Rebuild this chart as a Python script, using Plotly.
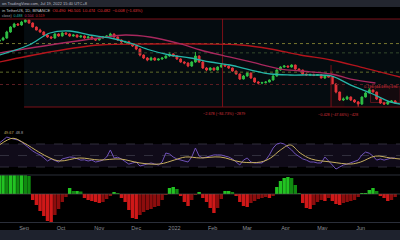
import plotly.graph_objects as go
import pandas as pd

# ---------------- data ----------------
dates = pd.date_range("2021-08-12", periods=108, freq="3D")

open_ = [1.85,1.901,1.992,2.291,2.573,2.759,2.696,2.891,3.029,2.824,
         2.573,2.400,2.291,2.136,2.039,1.992,2.186,2.087,2.238,2.186,
         2.087,2.136,2.039,2.087,1.992,2.039,1.946,1.901,1.992,2.039,
         2.087,2.186,2.039,1.901,1.815,1.830,1.733,1.654,1.542,1.341,
         1.251,1.194,1.251,1.194,1.222,1.251,1.310,1.373,1.310,1.222,
         1.140,1.113,1.038,1.140,1.310,1.140,0.991,0.946,0.991,0.946,
         1.014,1.063,1.038,0.991,0.924,0.862,0.767,0.823,0.882,0.785,
         0.716,0.699,0.705,0.716,0.750,0.823,0.946,1.014,1.038,1.014,
         1.063,0.968,0.946,0.862,0.842,0.850,0.835,0.848,0.785,0.823,
         0.804,0.683,0.567,0.471,0.482,0.505,0.471,0.450,0.429,0.505,
         0.554,0.594,0.567,0.482,0.439,0.429,0.450,0.460]
high = [1.96,2.05,2.36,2.62,2.84,2.82,2.97,3.10,3.05,2.86,
        2.60,2.47,2.33,2.18,2.08,2.23,2.22,2.29,2.28,2.22,
        2.18,2.16,2.12,2.11,2.08,2.07,1.98,2.03,2.09,2.12,
        2.25,2.21,2.07,1.93,1.87,1.87,1.76,1.68,1.57,1.36,
        1.28,1.29,1.27,1.24,1.27,1.33,1.44,1.39,1.33,1.24,
        1.16,1.13,1.16,1.44,1.33,1.16,1.01,1.01,1.00,1.03,
        1.08,1.09,1.05,1.00,0.93,0.87,0.84,0.90,0.89,0.79,
        0.73,0.72,0.73,0.76,0.84,0.96,1.03,1.06,1.05,1.08,
        1.07,0.98,0.95,0.87,0.87,0.87,0.86,0.85,0.83,0.84,
        0.81,0.69,0.57,0.50,0.52,0.51,0.48,0.46,0.51,0.57,
        0.62,0.60,0.57,0.49,0.45,0.46,0.47,0.47]
low = [1.80,1.88,1.96,2.25,2.54,2.64,2.65,2.86,2.78,2.55,
       2.38,2.26,2.10,2.00,1.94,1.96,2.05,2.06,2.15,2.05,
       2.06,2.01,2.01,1.96,1.97,1.92,1.86,1.88,1.97,2.01,
       2.06,2.01,1.87,1.78,1.78,1.70,1.62,1.50,1.30,1.22,
       1.16,1.18,1.17,1.18,1.20,1.23,1.29,1.29,1.20,1.12,
       1.08,1.01,1.02,1.12,1.12,0.97,0.92,0.93,0.93,0.94,
       1.00,1.02,0.97,0.91,0.85,0.75,0.76,0.81,0.77,0.70,
       0.68,0.68,0.69,0.71,0.74,0.81,0.93,1.00,1.00,1.00,
       0.95,0.93,0.85,0.83,0.83,0.82,0.83,0.78,0.77,0.80,
       0.67,0.55,0.46,0.46,0.47,0.46,0.44,0.40,0.42,0.50,
       0.55,0.56,0.47,0.43,0.42,0.42,0.44,0.43]
close = [1.901,1.992,2.291,2.573,2.759,2.696,2.891,3.029,2.824,2.573,
         2.400,2.291,2.136,2.039,1.992,2.186,2.087,2.238,2.186,2.087,
         2.136,2.039,2.087,1.992,2.039,1.946,1.901,1.992,2.039,2.087,
         2.186,2.039,1.901,1.815,1.830,1.733,1.654,1.542,1.341,1.251,
         1.194,1.251,1.194,1.222,1.251,1.310,1.373,1.310,1.222,1.140,
         1.113,1.038,1.140,1.310,1.140,0.991,0.946,0.991,0.946,1.014,
         1.063,1.038,0.991,0.924,0.862,0.767,0.823,0.882,0.785,0.716,
         0.699,0.705,0.716,0.750,0.823,0.946,1.014,1.038,1.014,1.063,
         0.968,0.946,0.862,0.842,0.850,0.835,0.848,0.785,0.823,0.804,
         0.683,0.567,0.471,0.482,0.505,0.471,0.450,0.429,0.505,0.554,
         0.594,0.567,0.482,0.439,0.429,0.450,0.460,0.439]

ma_fast_dates = ["2021-08-12","2021-09-05","2021-09-22","2021-10-08","2021-10-24","2021-11-10",
                 "2021-11-26","2021-12-12","2021-12-28","2022-01-14","2022-01-30","2022-02-15",
                 "2022-03-04","2022-03-20","2022-04-05","2022-04-22","2022-05-08","2022-05-24",
                 "2022-06-09","2022-06-25","2022-07-03"]
ma_fast = [1.341,1.693,2.238,2.345,2.136,1.992,1.773,1.507,1.341,1.251,1.140,1.063,
           0.946,0.862,0.842,0.842,0.823,0.667,0.554,0.450,0.429]

ma_mid_dates = ["2021-08-12","2021-09-22","2021-11-01","2021-11-22","2021-12-12","2022-01-06",
                "2022-01-22","2022-02-11","2022-03-04","2022-03-28","2022-04-13","2022-05-08",
                "2022-05-24","2022-06-13"]
ma_mid = [1.405,1.693,1.992,2.136,2.039,1.733,1.507,1.310,1.140,0.968,0.924,0.862,0.767,0.699]

ma_slow_dates = ["2021-08-12","2021-09-22","2021-11-01","2021-12-12","2022-01-22","2022-02-24",
                 "2022-03-20","2022-04-13","2022-05-08","2022-06-01","2022-07-03"]
ma_slow = [1.140,1.438,1.693,1.733,1.733,1.693,1.542,1.341,1.194,1.014,0.804]

rsi = [71.7,77,82,80,78.7,77,73.5,68,63,58,
       54,51,46,40.5,44,42,38.7,44,45.7,47.4,
       47,44,42,42.5,40.5,42,38.7,40,42,47.4,
       59.6,45.7,47,44,38.7,35,37,38.7,31.7,33.5,
       35,37,35.2,33.5,38.7,54.3,52.6,47.4,43.9,42.2,
       40.5,38.7,47.4,63,49,45.7,47.4,49,51,51,
       50.9,49,47.4,44,38.7,33.5,42,45.7,38.7,37,
       37,37,42,51,63,70,71.7,70,64.8,59.6,
       52.6,49,44,42,38.7,38.7,37,37,47.4,40.5,
       33.5,26.5,30,33.5,35,37,38.7,42,51,56,
       54,49,42,44,42,44,45.7,45.7]

rsi_ma_dates = ["2021-08-12","2021-08-23","2021-09-01","2021-09-13","2021-09-22","2021-09-30",
                "2021-10-16","2021-11-01","2021-11-18","2021-12-04","2021-12-20","2022-01-01",
                "2022-01-10","2022-01-22","2022-02-07","2022-02-24","2022-03-12","2022-03-20",
                "2022-03-28","2022-04-05","2022-04-13","2022-04-22","2022-05-08","2022-05-24",
                "2022-06-01","2022-06-13","2022-06-25","2022-07-03"]
rsi_ma = [68.3,80,71.7,56,45.7,40.5,45.7,42.2,43.9,37,35.2,42.2,47.4,45.7,47.4,38.7,
          38.7,45.7,59.6,68.3,54.3,43.9,38.7,35.2,38.7,49,45.7,43.9]

mom = [0.19,0.20,0.19,0.20,0.20,0.19,0.20,0.19,0.18,
       -0.06,-0.11,-0.17,-0.22,-0.27,-0.28,-0.21,-0.15,-0.08,-0.03,
       0.06,0.03,0.03,0.025,
       -0.04,-0.06,-0.07,-0.08,-0.09,-0.08,-0.05,-0.02,
       0.02,0.01,
       -0.04,-0.08,-0.16,-0.24,-0.25,-0.21,-0.18,-0.16,-0.15,-0.13,-0.12,-0.06,-0.01,
       0.06,0.07,0.05,
       -0.02,-0.08,-0.12,-0.06,-0.01,
       0.02,
       -0.04,-0.08,-0.14,-0.19,-0.14,-0.05,
       0.03,0.03,0.02,
       -0.02,-0.08,-0.12,-0.13,-0.09,-0.07,-0.05,-0.04,-0.03,-0.04,-0.02,
       0.07,0.13,0.16,0.17,0.16,0.09,0.01,
       -0.09,-0.14,-0.15,-0.11,-0.08,-0.06,-0.07,-0.04,-0.07,-0.10,-0.11,-0.09,-0.08,-0.07,-0.06,-0.03,
       0.01,0.01,0.04,0.06,0.03,
       -0.02,-0.04,-0.07,-0.06,-0.03]

tick_dates = ["2021-09-01","2021-10-01","2021-11-01","2021-12-01","2022-01-01","2022-02-01",
              "2022-03-01","2022-04-01","2022-05-01","2022-06-01","2022-07-01"]
tick_text = ["Sep","Oct","Nov","Dec","2022","Feb","Mar","Apr","May","Jun","Jul"]

level_values = [1.75, 1.41, 0.90, 0.675]
level_colors = ["#77772e", "#34482c", "#5f6a2a", "#5a1c22"]

box_top, box_bottom = 3.10, 0.40
box_start = "2021-09-01"
x_start, x_end = "2021-08-12 12:00", "2022-07-02 22:00"

meas1_date = "2022-02-09"
meas2_dates = ["2022-05-08", "2022-05-19"]
meas2_top = 0.898
meas3_dates = ["2022-06-09", "2022-07-03"]
meas3_lo, meas3_hi = 0.444, 0.640

# ---------------- figure ----------------
fig = go.Figure()
XR = [x_start, x_end]

# top / bottom range lines
fig.add_trace(go.Scatter(x=[x_start, x_end], y=[box_top, box_top], mode="lines",
                         line=dict(color="#7a1018", width=1.2)))
fig.add_trace(go.Scatter(x=[box_start, x_end], y=[box_bottom, box_bottom], mode="lines",
                         line=dict(color="#7a1018", width=1.2)))
# dotted levels
for v, c in zip(level_values, level_colors):
    fig.add_trace(go.Scatter(x=[x_start, x_end], y=[v, v], mode="lines",
                             line=dict(color=c, width=1, dash="dot")))
# vertical measurement lines
fig.add_trace(go.Scatter(x=[meas1_date, meas1_date], y=[box_top, box_bottom], mode="lines",
                         line=dict(color="#7a1018", width=1)))
fig.add_trace(go.Scatter(x=[meas2_dates[0], meas2_dates[0]], y=[1.06, box_bottom], mode="lines",
                         line=dict(color="#7a1018", width=1)))

# candles
fig.add_trace(go.Candlestick(x=dates, open=open_, high=high, low=low, close=close,
                             increasing=dict(line=dict(color="#2fbf45", width=1), fillcolor="#2fbf45"),
                             decreasing=dict(line=dict(color="#e3343a", width=1), fillcolor="#e3343a"),
                             whiskerwidth=0))

# moving averages
fig.add_trace(go.Scatter(x=ma_slow_dates, y=ma_slow, mode="lines", line=dict(color="#b3141c", width=1.3, shape="spline")))
fig.add_trace(go.Scatter(x=ma_mid_dates, y=ma_mid, mode="lines", line=dict(color="#a8285e", width=1.3, shape="spline")))
fig.add_trace(go.Scatter(x=ma_fast_dates, y=ma_fast, mode="lines", line=dict(color="#25b5a8", width=1.3, shape="spline")))

# RSI panel
for lv in [70, 50, 30]:
    fig.add_trace(go.Scatter(x=[x_start, x_end], y=[lv, lv], mode="lines",
                             line=dict(color="#3a3846", width=0.8, dash="dash"),
                             xaxis="x2", yaxis="y2"))
fig.add_trace(go.Scatter(x=dates, y=rsi, mode="lines", line=dict(color="#6f52b8", width=1),
                         xaxis="x2", yaxis="y2"))
fig.add_trace(go.Scatter(x=rsi_ma_dates, y=rsi_ma, mode="lines",
                         line=dict(color="#c8b060", width=1, shape="spline"),
                         xaxis="x2", yaxis="y2"))

# momentum histogram
hist_colors = []
for i, v in enumerate(mom):
    prev = mom[i - 1] if i > 0 else v
    if v >= 0:
        hist_colors.append("#22c322" if v >= prev else "#108a10")
    else:
        hist_colors.append("#cf1818" if v <= prev else "#8c0d0d")
fig.add_trace(go.Bar(x=dates, y=mom, marker=dict(color=hist_colors, line=dict(width=0)),
                     xaxis="x3", yaxis="y3"))
fig.add_trace(go.Scatter(x=[x_start, x_end], y=[0, 0], mode="lines",
                         line=dict(color="#555555", width=0.6), xaxis="x3", yaxis="y3"))


def px(xp):
    return xp / 400.0


def py(yp):
    return 1 - yp / 240.0


annos = [
    dict(x=px(0), y=py(3.5), text="on TradingView.com, Jul 19, 2022 15:40 UTC+8", color="#b8bcc6", size=4),
    dict(x=px(0), y=py(11), text="in TetherUS, 1D, BINANCE  <span style='color:#e3343a'>O0.490  H0.501  L0.474  C0.482  −0.008 (−1.63%)</span>",
         color="#c8ccd6", size=4),
    dict(x=px(0), y=py(16.5), text="close)  <span style='color:#25b5a8'>0.488</span>  <span style='color:#c2306a'>0.504</span>  <span style='color:#d0202a'>0.519</span>",
         color="#a0a4ae", size=3.6),
    dict(x=px(2), y=py(132.5), text="<span style='color:#c8b060'>49.67</span>  48.8", color="#a0a4ae", size=3.8),
]
annotations = []
for a in annos:
    annotations.append(dict(x=a["x"], y=a["y"], xref="paper", yref="paper", text=a["text"],
                            showarrow=False, xanchor="left", yanchor="middle",
                            font=dict(color=a["color"], size=a["size"], family="Liberation Sans")))
for xx, yy, t, anc in [(224, 114, "−2.678 (−84.73%) −2879", "center"),
                       (338, 115, "−0.428 (−47.66%) −428", "center"),
                       (399, 87, "0.196 (44.18%) 196", "right")]:
    annotations.append(dict(x=px(xx), y=py(yy), xref="paper", yref="paper", text=t, showarrow=False,
                            xanchor=anc, yanchor="middle",
                            font=dict(color="#d0303a", size=3.8, family="Liberation Sans")))

shapes = [
    # chart range box background (below traces)
    dict(type="rect", xref="x", yref="y", x0=box_start, x1=x_end, y0=box_bottom, y1=box_top,
         fillcolor="#050c10", line=dict(width=0), layer="below"),
    dict(type="rect", xref="x", yref="y", x0=meas2_dates[0], x1=meas2_dates[1], y0=box_bottom, y1=meas2_top,
         fillcolor="#140a0e", line=dict(width=0), layer="below"),
    dict(type="rect", xref="x", yref="y", x0=meas3_dates[0], x1=meas3_dates[1], y0=meas3_lo, y1=meas3_hi,
         fillcolor="#140a0e", line=dict(color="#6a1520", width=0.8), layer="below"),
    # RSI band
    dict(type="rect", xref="paper", yref="y2", x0=0, x1=1, y0=30, y1=70,
         fillcolor="#100b19", line=dict(width=0), layer="below"),
    # header / footer bars
    dict(type="rect", xref="paper", yref="paper", x0=0, x1=1, y0=py(7), y1=1,
         fillcolor="#23262f", line=dict(width=0), layer="above"),
    dict(type="rect", xref="paper", yref="paper", x0=0, x1=1, y0=0, y1=py(230),
         fillcolor="#1e222d", line=dict(width=0), layer="above"),
    dict(type="line", xref="paper", yref="paper", x0=0, x1=1, y0=py(175), y1=py(175),
         line=dict(color="#2a2e39", width=1)),
    dict(type="line", xref="paper", yref="paper", x0=0, x1=1, y0=py(222.5), y1=py(222.5),
         line=dict(color="#2a2e39", width=1)),
]

fig.update_layout(
    width=400, height=240, margin=dict(l=0, r=0, t=0, b=0),
    paper_bgcolor="#000000", plot_bgcolor="#000000", showlegend=False,
    bargap=0.08,
    xaxis=dict(domain=[0, 1], range=XR, anchor="y", showticklabels=False, showgrid=False,
               zeroline=False, rangeslider=dict(visible=False), type="date"),
    yaxis=dict(domain=[py(118), py(8)], type="log", range=[-0.50911, 0.60253], visible=False),
    xaxis2=dict(domain=[0, 1], matches="x", anchor="y2", showticklabels=False, showgrid=False,
                zeroline=False, type="date"),
    yaxis2=dict(domain=[py(175), py(126)], range=[16.1, 101.3], visible=False),
    xaxis3=dict(domain=[0, 1], matches="x", anchor="y3", tickvals=tick_dates, ticktext=tick_text,
                tickfont=dict(size=5.5, color="#8c909a", family="Liberation Sans"),
                showgrid=False, zeroline=False, ticks="", showline=False, type="date"),
    yaxis3=dict(domain=[py(223), py(175)], range=[-0.29, 0.19], visible=False),
    annotations=annotations, shapes=shapes,
)

fig.write_html("out.html")
